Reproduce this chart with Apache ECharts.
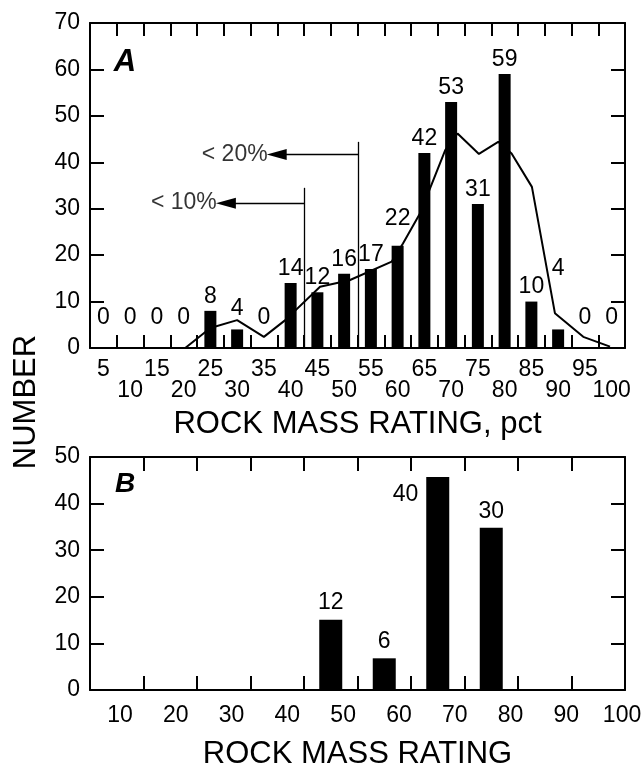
<!DOCTYPE html>
<html>
<head>
<meta charset="utf-8">
<script src="https://cdn.jsdelivr.net/npm/echarts@6/dist/echarts.min.js"></script>
<style>
html,body{margin:0;padding:0;background:#fff;}
#c{width:642px;height:767px;}
</style>
</head>
<body>
<div id="c"></div>
<script>
// ---------- data ----------
const catsA = ['5','10','15','20','25','30','35','40','45','50','55','60','65','70','75','80','85','90','95','100'];
const countsA = [0,0,0,0,8,4,0,14,12,16,17,22,42,53,31,59,10,4,0,0];
const curveRating = [20.3,25,30,35,39,45.5,51,58.9,61,64.2,68.9,71.2,75.2,78.8,81.3,85.1,89.4,94.7,99.7];
const curveNumber = [0,4.3,6.0,2.4,6.0,13.2,14.6,18.6,22.5,29,42.6,46.2,41.8,44.4,41.9,34.7,7.5,2.4,0.3];
const limitLabels = ['< 10%','< 20%'];
const limitRating = [42.6,52.6];
const limitTop = [34.5,44.4];
const limitArrowY = [31.2,41.7];
const limitArrowTip = [27.9,37.4];
const catsB = ['10','20','30','40','50','60','70','80','90','100'];
const percentB = [0,0,0,0,15.1,6.8,45.7,34.8,0,0];
const countsB = [null,null,null,null,12,6,40,30,null,null];
const tickLabelsB = [10,20,30,40,50,60,70,80,90,100];
const yTicksA = {min:0,max:70,interval:10};
const yTicksB = {min:0,max:50,interval:10};

// ---------- styles ----------
const FONT = '"Liberation Sans", Arial, Helvetica, sans-serif';
const BLACK = '#000';
const NUMSIZE = 23;
const axisLine = {show:true, onZero:false, lineStyle:{color:BLACK, width:2}};
const tick = (len)=>({show:true, inside:true, length:len, interval:0, lineStyle:{color:BLACK, width:2}});
// extra label lifts (px) for labels moved up to clear the curve
const liftA = {'30':6,'60':13,'90':46};
const zeroLift = 16;

const chart = echarts.init(document.getElementById('c'), null, {renderer:'canvas'});

const barDataA = countsA.map((v,i)=>{
  let lift = v === 0 ? zeroLift : (liftA[catsA[i]] || 0);
  return {value:v, label:{offset:[0,-lift]}};
});

const barDataB = percentB.map((v,i)=>{
  const c = countsB[i];
  const item = {value:v, cnt:c};
  if (c === 40) {
    item.label = {position:[-8,18], align:'right', verticalAlign:'middle'};
  }
  return item;
});

const markLineData = [];
for (let i=0;i<limitLabels.length;i++){
  markLineData.push([{coord:[limitRating[i],limitArrowY[i]]},{coord:[limitArrowTip[i],limitArrowY[i]]}]);
  markLineData.push([{coord:[limitRating[i],limitTop[i]],symbol:'none'},{coord:[limitRating[i],0],symbol:'none'}]);
}

const option = {
  animation:false,
  backgroundColor:'#fff',
  textStyle:{fontFamily:FONT, color:BLACK},
  grid:[
    {left:90, top:23, width:535, height:325, containLabel:false, outerBoundsMode:'none'},
    {left:90, top:457, width:535, height:233, containLabel:false, outerBoundsMode:'none'}
  ],
  xAxis:[
    {type:'category', gridIndex:0, data:catsA, position:'bottom', axisLine:axisLine, axisTick:tick(13),
     axisLabel:{interval:0, fontSize:NUMSIZE, color:BLACK, fontFamily:FONT, lineHeight:21, margin:11,
       formatter:(v,i)=> (i%2 ? '\n'+v : v)},
     splitLine:{show:false},
     name:'ROCK MASS RATING, pct', nameLocation:'middle', nameGap:61,
     nameTextStyle:{fontSize:31, color:BLACK, fontFamily:FONT}},
    {type:'category', gridIndex:0, data:catsA, position:'top', axisLine:axisLine, axisTick:tick(13),
     axisLabel:{show:false}, splitLine:{show:false}},
    {type:'value', gridIndex:0, min:2.5, max:102.5, show:false, splitLine:{show:false}},
    {type:'category', gridIndex:1, data:catsB, position:'bottom', axisLine:axisLine, axisTick:tick(14),
     axisLabel:{show:false},
     splitLine:{show:false},
     name:'ROCK MASS RATING', nameLocation:'middle', nameGap:49,
     nameTextStyle:{fontSize:31, color:BLACK, fontFamily:FONT}},
    {type:'category', gridIndex:1, data:catsB, position:'top', axisLine:axisLine, axisTick:tick(14),
     axisLabel:{show:false}, splitLine:{show:false}},
    // label-only axis for panel B (labels in the original sit on a slightly wider scale)
    {type:'value', gridIndex:1, position:'bottom', min:4.62, max:100.53,
     axisLine:{show:false}, axisTick:{show:false}, splitLine:{show:false},
     axisLabel:{show:true, customValues:tickLabelsB, fontSize:NUMSIZE, color:BLACK, fontFamily:FONT, margin:14,
       showMinLabel:true, showMaxLabel:true}}
  ],
  yAxis:[
    {type:'value', gridIndex:0, position:'left', min:yTicksA.min, max:yTicksA.max, interval:yTicksA.interval,
     axisLine:axisLine, axisTick:tick(14), splitLine:{show:false},
     axisLabel:{fontSize:NUMSIZE, color:BLACK, fontFamily:FONT, margin:10}},
    {type:'value', gridIndex:0, position:'right', min:yTicksA.min, max:yTicksA.max, interval:yTicksA.interval,
     axisLine:axisLine, axisTick:tick(14), splitLine:{show:false}, axisLabel:{show:false}},
    {type:'value', gridIndex:1, position:'left', min:yTicksB.min, max:yTicksB.max, interval:yTicksB.interval,
     axisLine:axisLine, axisTick:tick(14), splitLine:{show:false},
     axisLabel:{fontSize:NUMSIZE, color:BLACK, fontFamily:FONT, margin:10}},
    {type:'value', gridIndex:1, position:'right', min:yTicksB.min, max:yTicksB.max, interval:yTicksB.interval,
     axisLine:axisLine, axisTick:tick(14), splitLine:{show:false}, axisLabel:{show:false}}
  ],
  series:[
    {type:'bar', xAxisIndex:0, yAxisIndex:0, data:barDataA, barWidth:12, z:3,
     itemStyle:{color:BLACK},
     label:{show:true, position:'top', distance:3, fontSize:NUMSIZE, color:BLACK, fontFamily:FONT}},
    {type:'line', xAxisIndex:2, yAxisIndex:0, z:2, symbol:'none',
     data:curveRating.map((x,i)=>[x,curveNumber[i]]),
     lineStyle:{color:BLACK, width:2}},
    {type:'line', xAxisIndex:2, yAxisIndex:0, data:[], symbol:'none',
     markLine:{silent:true, animation:false, symbol:['none','triangle'], symbolSize:[11,20],
       lineStyle:{color:BLACK, width:1.3, type:'solid'}, label:{show:false},
       emphasis:{disabled:true}, data:markLineData}},
    {type:'scatter', xAxisIndex:2, yAxisIndex:0, symbolSize:0, silent:true,
     data:limitLabels.map((t,i)=>[limitArrowTip[i]-1.7, limitArrowY[i], t]),
     label:{show:true, position:'left', distance:0, fontSize:23, color:BLACK, fontFamily:FONT,
       formatter:p=>p.data[2]}},
    {type:'bar', xAxisIndex:3, yAxisIndex:2, data:barDataB, barWidth:23,
     itemStyle:{color:BLACK},
     label:{show:true, position:'top', distance:5, fontSize:NUMSIZE, color:BLACK, fontFamily:FONT,
       formatter:p=> (p.data.cnt == null ? '' : String(p.data.cnt))}}
  ],
  graphic:[
    {type:'text', x:125, y:62, style:{text:'A', font:'italic bold 31px '+FONT, fill:BLACK, align:'center', verticalAlign:'middle'}},
    {type:'text', x:125, y:484, style:{text:'B', font:'italic bold 28px '+FONT, fill:BLACK, align:'center', verticalAlign:'middle'}},
    {type:'text', x:26, y:402, rotation:Math.PI/2, style:{text:'NUMBER', font:'31px '+FONT, fill:BLACK, align:'center', verticalAlign:'middle'}}
  ]
};
chart.setOption(option);
</script>
</body>
</html>
